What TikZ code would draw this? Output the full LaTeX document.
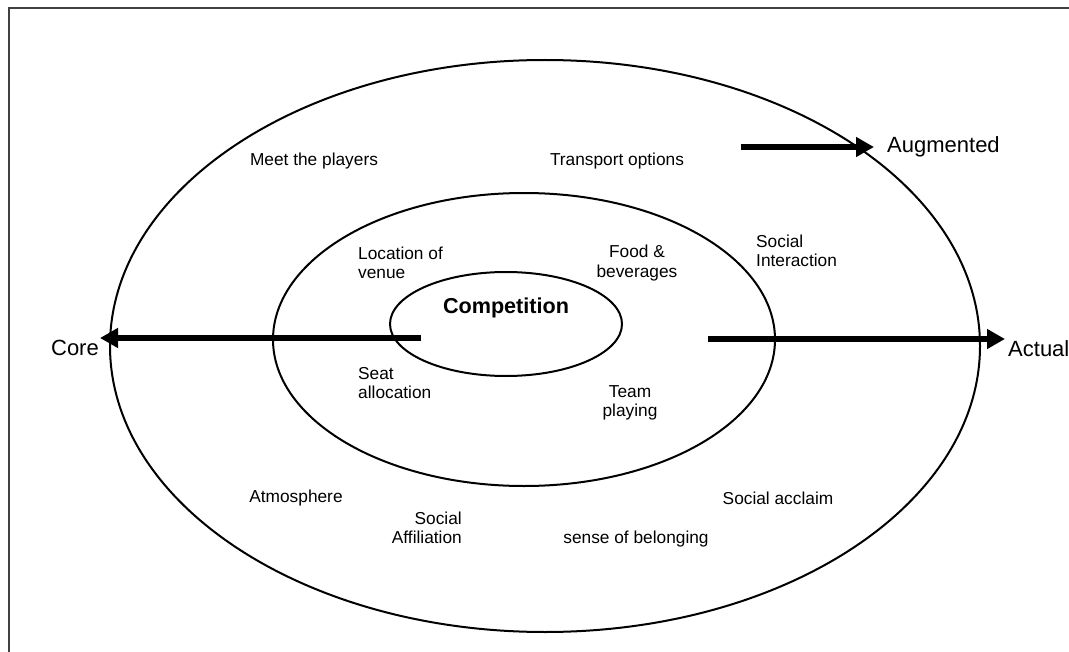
\documentclass[tikz,border=0pt]{standalone}
\usepackage{fontspec}
\setmainfont{Liberation Sans}
\usetikzlibrary{arrows.meta}
\begin{document}
\begin{tikzpicture}[x=1bp,y=-1bp,
  ring/.style={line width=2bp, black},
  frame/.style={line width=2.5bp, black!75},
  bigarrow/.style={line width=6bp, -{Triangle[length=18bp,width=19bp]}},
  lbl/.style={inner sep=0pt, font=\fontsize{17.3bp}{19.5bp}\selectfont},
  dir/.style={inner sep=0pt, font=\fontsize{22bp}{24bp}\selectfont},
  core/.style={inner sep=0pt, font=\fontsize{21.6bp}{24bp}\selectfont\bfseries}]
\useasboundingbox (0,0) rectangle (1069,652);
\fill[white] (0,0) rectangle (1069,652);
% frame (top and left only)
\begin{scope}
\clip (0,0) rectangle (1069,652);
\draw[frame] (9,660) -- (9,8) -- (1080,8);
\end{scope}
% ellipses
\draw[ring] (545,346) ellipse [x radius=435, y radius=286];
\draw[ring] (524,339.5) ellipse [x radius=251, y radius=146.5];
\draw[ring] (506,324) ellipse [x radius=116, y radius=52];
% direction labels
\node[dir, anchor=east] (core) at (99,348) {Core};
\node[dir, anchor=west] (actual) at (1008,349) {Actual};
\node[dir, anchor=west] (augmented) at (887,147) {Augmented};
% arrow ends
\coordinate (coreStart) at (421,338);
\coordinate (coreTip) at (100,338);
\coordinate (actualStart) at (708,339);
\coordinate (actualTip) at (1005,339);
\coordinate (augStart) at (741,147);
\coordinate (augTip) at (874,147);
\draw[bigarrow] (coreStart) -- (coreTip);
\draw[bigarrow] (actualStart) -- (actualTip);
\draw[bigarrow] (augStart) -- (augTip);
% core
\node[core] (competition) at (506,308) {Competition};
% middle ring labels
\node[lbl, anchor=west, align=left] (location) at (358,263) {Location of\\venue};
\node[lbl, align=center] (food) at (637,263) {Food \&\\beverages};
\node[lbl, anchor=west, align=left] (seat) at (358,383) {Seat\\allocation};
\node[lbl, align=center] (team) at (630,403) {Team\\playing};
% outer ring labels
\node[lbl] (meet) at (314,161) {Meet the players};
\node[lbl] (transport) at (617,161) {Transport options};
\node[lbl, anchor=west, align=left] (interaction) at (756,251) {Social\\Interaction};
\node[lbl] (atmosphere) at (296,498) {Atmosphere};
\node[lbl, anchor=east, align=right] (affiliation) at (462,528) {Social\\Affiliation};
\node[lbl] (belonging) at (636,539) {sense of belonging};
\node[lbl] (acclaim) at (778,498) {Social acclaim};
\end{tikzpicture}
\end{document}
